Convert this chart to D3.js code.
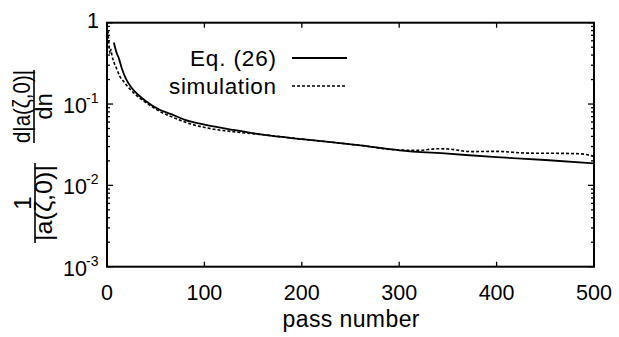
<!DOCTYPE html>
<html>
<head>
<meta charset="utf-8">
<script src="https://cdn.jsdelivr.net/npm/d3@7"></script>
<style>
body{margin:0;background:#fff;}
text{font-family:"Liberation Sans",Arial,Helvetica,sans-serif;fill:#000;}
</style>
</head>
<body>
<svg id="chart" width="619" height="337"></svg>
<script>
// Data
const eqN   = [7, 10, 12, 15, 19, 25, 32, 40, 54, 66, 80, 100, 130, 160, 200, 230, 260, 300, 350, 400, 450, 500];
const eqV   = [0.57, 0.42, 0.37, 0.28, 0.21, 0.16, 0.13, 0.108, 0.085, 0.075, 0.064, 0.056, 0.048, 0.042, 0.037, 0.034, 0.031, 0.027, 0.0245, 0.0222, 0.0205, 0.0186];
const simN  = [1, 2, 3, 4, 5, 7, 10, 13, 17, 22, 28, 35, 45, 55, 66, 80, 97, 115, 135, 160, 200, 230, 260, 300, 320, 340, 350, 374, 400, 432, 460, 487, 500];
const simV  = [0.8, 0.55, 0.42, 0.47, 0.40, 0.33, 0.27, 0.22, 0.19, 0.16, 0.135, 0.115, 0.095, 0.08, 0.07, 0.06, 0.0525, 0.048, 0.045, 0.042, 0.037, 0.034, 0.031, 0.0272, 0.027, 0.0282, 0.028, 0.026, 0.0262, 0.0249, 0.0248, 0.0244, 0.0226];
const xTicks = [0, 100, 200, 300, 400, 500];
const yMajor = [1, 0.1, 0.01, 0.001];
const yMajorExp = ["", "-1", "-2", "-3"];
const legendLabels = ["Eq. (26)", "simulation"];

const svg = d3.select("#chart");
const L = 107, R = 594, T = 22.7, B = 266.7;
const x = d3.scaleLinear().domain([0, 500]).range([L, R]);
const y = d3.scaleLog().domain([0.001, 1]).range([B, T]);

// Minor ticks
const minors = [];
[0.001, 0.01, 0.1].forEach(d => { for (let k = 2; k <= 9; k++) minors.push(d * k); });

const g = svg.append("g");
// frame
g.append("rect").attr("x", L).attr("y", T).attr("width", R - L).attr("height", B - T)
  .attr("fill", "none").attr("stroke", "#000").attr("stroke-width", 2);

// x ticks (inward, bottom and top)
xTicks.slice(1, -1).forEach(v => {
  g.append("line").attr("x1", x(v)).attr("x2", x(v)).attr("y1", B).attr("y2", B - 5).attr("stroke", "#000").attr("stroke-width", 1.3);
  g.append("line").attr("x1", x(v)).attr("x2", x(v)).attr("y1", T).attr("y2", T + 5).attr("stroke", "#000").attr("stroke-width", 1.3);
});
// y ticks
yMajor.forEach(v => {
  [[L, L + 6], [R, R - 6]].forEach(p => g.append("line").attr("x1", p[0]).attr("x2", p[1]).attr("y1", y(v)).attr("y2", y(v)).attr("stroke", "#000").attr("stroke-width", 1.3));
});
minors.forEach(v => {
  [[L, L + 3], [R, R - 3]].forEach(p => g.append("line").attr("x1", p[0]).attr("x2", p[1]).attr("y1", y(v)).attr("y2", y(v)).attr("stroke", "#000").attr("stroke-width", 1.3));
});

// x tick labels
xTicks.forEach(v => {
  g.append("text").attr("x", x(v)).attr("y", 300).attr("text-anchor", "middle").attr("font-size", 21.5).text(v);
});
g.append("text").attr("x", (L + R) / 2 + 0.5).attr("y", 327).attr("text-anchor", "middle").attr("font-size", 23)
  .attr("textLength", 137).attr("lengthAdjust", "spacing").text("pass number");

// y tick labels
yMajor.forEach((v, i) => {
  if (i === 0) {
    g.append("text").attr("x", 99).attr("y", y(v) + 5).attr("text-anchor", "end").attr("font-size", 21.5).text("1");
  } else {
    g.append("text").attr("x", 87).attr("y", y(v) + 9).attr("text-anchor", "end").attr("font-size", 21.5).text("10");
    g.append("text").attr("x", 86).attr("y", y(v) - 1).attr("text-anchor", "start").attr("font-size", 14).text(yMajorExp[i]);
  }
});

// y-axis label (rotated fraction)
const yl = svg.append("g").attr("transform", "rotate(-90)");
const fs = 24;
yl.append("text").attr("x", -106.5).attr("y", 30).attr("text-anchor", "middle").attr("font-size", fs)
  .attr("textLength", 73).attr("lengthAdjust", "spacingAndGlyphs").text("d|a(ζ,0)|");
yl.append("line").attr("x1", -143).attr("x2", -70).attr("y1", 34).attr("y2", 34).attr("stroke", "#000").attr("stroke-width", 1.6);
yl.append("text").attr("x", -106.5).attr("y", 52).attr("text-anchor", "middle").attr("font-size", fs).text("dn");
yl.append("text").attr("x", -203).attr("y", 31).attr("text-anchor", "middle").attr("font-size", fs).text("1");
yl.append("line").attr("x1", -243).attr("x2", -163).attr("y1", 35).attr("y2", 35).attr("stroke", "#000").attr("stroke-width", 1.6);
yl.append("text").attr("x", -203).attr("y", 52).attr("text-anchor", "middle").attr("font-size", fs)
  .attr("textLength", 76).attr("lengthAdjust", "spacingAndGlyphs").text("|a(ζ,0)|");

// lines
const line = d3.line().x(d => x(d[0])).y(d => y(d[1])).curve(d3.curveMonotoneX);
const eqData = eqN.map((n, i) => [n, eqV[i]]);
const simData = simN.map((n, i) => [n, simV[i]]);
svg.append("path").datum(eqData).attr("d", line).attr("fill", "none").attr("stroke", "#000").attr("stroke-width", 1.8);
svg.append("path").datum(simData).attr("d", line).attr("fill", "none").attr("stroke", "#000").attr("stroke-width", 1.6).attr("stroke-dasharray", "3,2");

// legend
const lg = svg.append("g");
[[66, 58, null, 86], [94, 86, "3,2", 107]].forEach((r, i) => {
  lg.append("text").attr("x", 276).attr("y", r[0]).attr("text-anchor", "end").attr("font-size", 22.5)
    .attr("textLength", r[3]).attr("lengthAdjust", "spacing").text(legendLabels[i]);
  const ln = lg.append("line").attr("x1", 292).attr("x2", 347).attr("y1", r[1]).attr("y2", r[1]).attr("stroke", "#000").attr("stroke-width", i ? 1.6 : 1.8);
  if (r[2]) ln.attr("stroke-dasharray", r[2]);
});
</script>
</body>
</html>
